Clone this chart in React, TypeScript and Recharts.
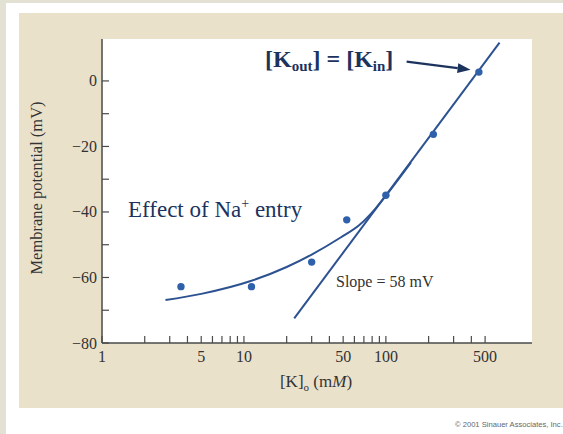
import React from 'react';
import { ComposedChart, Line, Scatter, XAxis, YAxis, ReferenceLine } from 'recharts';

// measured membrane potential vs external K+
const measuredK = [3.6, 11.3, 30, 53, 100, 216, 452];
const measuredMv = [-62.8, -62.8, -55.3, -42.4, -34.9, -16.3, 2.7];

// fitted curve including Na+ permeability (joins the Nernst line near 80 mM)
const naCurveK = [2.8, 5, 11.3, 20, 30, 48, 65, 85, 100, 150];
const naCurveMv = [-66.9, -65.0, -61.0, -56.8, -53.0, -47.8, -44.0, -38.8, -35.0, -24.9];

// Nernst line, 58 mV per decade
const nernstK = [22.6, 632];
const nernstMv = [-72.5, 11.7];

const K_TICKS = [1, 2, 3, 4, 5, 6, 7, 8, 9, 10, 20, 30, 40, 50, 60, 70, 80, 90, 100, 200, 300, 400, 500];
const K_LABELS = [1, 5, 10, 50, 100, 500];
const MV_TICKS = [-80, -70, -60, -50, -40, -30, -20, -10, 0];

// arrow from the [Kout] = [Kin] note to the 0 mV point
const arrowFrom = { k: 140, mv: 5.9 };
const arrowTo = { k: 395, mv: 3.4 };

const toRows = (ks: number[], vs: number[]) => ks.map((k, i) => ({ k, v: vs[i] }));
const measured = toRows(measuredK, measuredMv);
const naCurve = toRows(naCurveK, naCurveMv);
const nernst = toRows(nernstK, nernstMv);

const SERIF = "'Liberation Serif', 'Times New Roman', serif";
const AXIS = '#4a4a4a';
const LINE_BLUE = '#2d5291';
const DOT_BLUE = '#2f60aa';
const NAVY = '#1c335e';

const fmtMv = (v: number) => (v < 0 ? '\u2212' + Math.abs(v) : String(v));

const KTick = (props: any) => {
  const { x, y, payload } = props;
  const v = payload.value;
  return (
    <g>
      <line x1={x} x2={x} y1={y} y2={y - 7} stroke={AXIS} strokeWidth={1.2} />
      {K_LABELS.includes(v) && (
        <text x={x} y={y + 19} textAnchor="middle" fontFamily={SERIF} fontSize={16} fill="#333">
          {v}
        </text>
      )}
    </g>
  );
};

const MvTick = (props: any) => {
  const { x, y, payload } = props;
  const v = payload.value;
  return (
    <g>
      <line x1={x} x2={x + 7} y1={y} y2={y} stroke={AXIS} strokeWidth={1.2} />
      {v % 20 === 0 && (
        <text x={x - 5} y={y + 5.5} textAnchor="end" fontFamily={SERIF} fontSize={16} fill="#333">
          {fmtMv(v)}
        </text>
      )}
    </g>
  );
};

const ArrowShape = (props: any) => {
  const { x1, y1, x2, y2 } = props;
  if ([x1, y1, x2, y2].some((n) => typeof n !== 'number' || isNaN(n))) return null;
  const ang = Math.atan2(y2 - y1, x2 - x1);
  const len = 13;
  const half = 5;
  const bx = x2 - len * Math.cos(ang);
  const by = y2 - len * Math.sin(ang);
  const px = -Math.sin(ang) * half;
  const py = Math.cos(ang) * half;
  return (
    <g>
      <line x1={x1} y1={y1} x2={bx} y2={by} stroke={NAVY} strokeWidth={2.2} />
      <polygon points={`${x2},${y2} ${bx + px},${by + py} ${bx - px},${by - py}`} fill={NAVY} />
    </g>
  );
};

export default function App() {
  return (
    <div
      style={{
        position: 'absolute',
        left: 0,
        top: 0,
        width: 563,
        height: 434,
        background: '#ffffff',
        overflow: 'hidden',
      }}
    >
      {/* slide border */}
      <div style={{ position: 'absolute', left: 0, top: 0, width: 6, height: 434, background: '#e2e1d3' }} />
      <div style={{ position: 'absolute', left: 0, top: 0, width: 563, height: 3, background: '#e2e1d3' }} />
      {/* figure panel */}
      <div style={{ position: 'absolute', left: 19, top: 13, width: 550, height: 395, background: '#eae1cb' }} />
      {/* plot area */}
      <div style={{ position: 'absolute', left: 102, top: 39, width: 430, height: 304, background: '#ffffff' }} />

      <div style={{ position: 'absolute', left: 0, top: 0 }}>
        <ComposedChart width={563} height={434} margin={{ top: 39, right: 31, bottom: 61, left: 42 }}>
          <XAxis
            dataKey="k"
            type="number"
            scale="log"
            domain={[1, 1070]}
            allowDataOverflow
            ticks={K_TICKS}
            interval={0}
            tickSize={0}
            tickMargin={0}
            tickLine={false}
            tick={<KTick />}
            axisLine={{ stroke: AXIS, strokeWidth: 1.5 }}
          />
          <YAxis
            dataKey="v"
            type="number"
            domain={[-80, 12.8]}
            allowDataOverflow
            ticks={MV_TICKS}
            interval={0}
            tickSize={0}
            tickMargin={0}
            tickLine={false}
            tick={<MvTick />}
            axisLine={{ stroke: AXIS, strokeWidth: 1.5 }}
          />
          <Line
            data={nernst}
            dataKey="v"
            type="linear"
            stroke={LINE_BLUE}
            strokeWidth={2}
            dot={false}
            activeDot={false}
            isAnimationActive={false}
          />
          <Line
            data={naCurve}
            dataKey="v"
            type="monotone"
            stroke={LINE_BLUE}
            strokeWidth={2}
            dot={false}
            activeDot={false}
            isAnimationActive={false}
          />
          <Scatter
            data={measured}
            dataKey="v"
            isAnimationActive={false}
            shape={(p: any) => <circle cx={p.cx} cy={p.cy} r={3.7} fill={DOT_BLUE} />}
          />
          <ReferenceLine
            segment={[
              { x: arrowFrom.k, y: arrowFrom.mv },
              { x: arrowTo.k, y: arrowTo.mv },
            ]}
            shape={<ArrowShape />}
          />
        </ComposedChart>
      </div>

      <svg width={563} height={434} style={{ position: 'absolute', left: 0, top: 0, pointerEvents: 'none' }}>
        <text
          transform="translate(42,188) rotate(-90)"
          textAnchor="middle"
          fontFamily={SERIF}
          fontSize={16.5}
          fill="#333"
        >
          Membrane potential (mV)
        </text>
        <text x={316} y={387} textAnchor="middle" fontFamily={SERIF} fontSize={17} fill="#333">
          [K]<tspan fontSize={11} dy={4}>o</tspan>
          <tspan dy={-4}> (m</tspan>
          <tspan fontStyle="italic">M</tspan>)
        </text>
        <text x={128} y={217} fontFamily={SERIF} fontSize={23} fill={NAVY}>
          Effect of Na<tspan fontSize={14} dy={-9}>+</tspan>
          <tspan dy={9}> entry</tspan>
        </text>
        <text x={265} y={67} fontFamily={SERIF} fontSize={24} fontWeight="bold" fill={NAVY}>
          [K<tspan fontSize={15} dy={4}>out</tspan>
          <tspan dy={-4}>] = [K</tspan>
          <tspan fontSize={15} dy={4}>in</tspan>
          <tspan dy={-4}>]</tspan>
        </text>
        <text x={336} y={287} fontFamily={SERIF} fontSize={16} fill="#333">
          Slope = 58 mV
        </text>
        <text x={455} y={427} fontFamily="'Liberation Sans', Arial, sans-serif" fontSize={7.6} fill="#666">
          © 2001 Sinauer Associates, Inc.
        </text>
      </svg>
    </div>
  );
}
